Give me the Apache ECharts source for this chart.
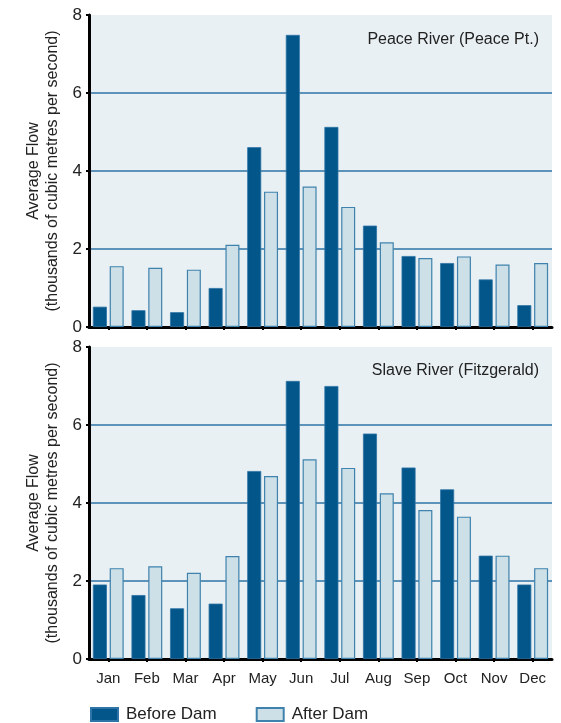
<!DOCTYPE html>
<html><head><meta charset="utf-8">
<script src="https://cdn.jsdelivr.net/npm/echarts@6/dist/echarts.min.js"></script>
<style>html,body{margin:0;padding:0;background:#fff}#c{width:561px;height:723px}</style>
</head><body><div id="c"></div>
<script>
const months = ['Jan','Feb','Mar','Apr','May','Jun','Jul','Aug','Sep','Oct','Nov','Dec'];
const peaceBefore = [0.52, 0.43, 0.38, 1.0, 4.61, 7.49, 5.13, 2.60, 1.82, 1.64, 1.22, 0.56];
const peaceAfter  = [1.56, 1.52, 1.47, 2.11, 3.47, 3.60, 3.08, 2.17, 1.77, 1.81, 1.60, 1.64];
const slaveBefore = [1.91, 1.64, 1.30, 1.42, 4.82, 7.13, 7.00, 5.78, 4.91, 4.35, 2.65, 1.91];
const slaveAfter  = [2.33, 2.38, 2.21, 2.64, 4.69, 5.12, 4.90, 4.25, 3.82, 3.65, 2.65, 2.33];
const yTicks = [0, 2, 4, 6, 8];
const titles = ['Peace River (Peace Pt.)', 'Slave River (Fitzgerald)'];
const seriesNames = ['Before Dam', 'After Dam'];
const yName = 'Average Flow\n(thousands of cubic metres per second)';

const FONT = "'Liberation Sans Narrow','Arial Narrow','Liberation Sans',sans-serif";
const BEFORE = '#02568a', AFTER = '#cde0e7', AFTER_BORDER = '#3f82ad', GRIDC = '#2f75a5';

function yAxis(gi){
  return {
    gridIndex: gi, type:'value', min: yTicks[0], max: yTicks[yTicks.length-1], interval: 2,
    name: yName, nameLocation:'middle', nameRotate:90, nameGap: 27,
    nameTextStyle:{fontFamily:FONT, fontSize:16, color:'#222', lineHeight:19},
    axisLine:{show:true, lineStyle:{color:'#000', width:3}},
    axisTick:{show:true, length:3, lineStyle:{color:'#000', width:2}},
    axisLabel:{fontFamily:FONT, fontSize:17, color:'#222', margin:7},
    splitLine:{show:true, lineStyle:{color:GRIDC, width:1.5}, showMaxLine:false}
  };
}
function xAxis(gi, labels){
  return {
    gridIndex: gi, type:'category', data: months,
    axisLine:{show:true, lineStyle:{color:'#000', width:3}},
    axisTick:{show:true, alignWithLabel:true, length:3, lineStyle:{color:'#000', width:2}},
    axisLabel:{show:labels, fontFamily:FONT, fontSize:15, color:'#222', margin:12}
  };
}
function bars(name, data, gi, before){
  return {
    name, type:'bar', xAxisIndex:gi, yAxisIndex:gi, data,
    barWidth:14, barGap:'20%',
    itemStyle: before ? {color:BEFORE, borderColor:'#2f74a6', borderWidth:0.8}
                      : {color:AFTER, borderColor:AFTER_BORDER, borderWidth:1.2},
    emphasis:{disabled:true}
  };
}
const chart = echarts.init(document.getElementById('c'), null, {renderer:'canvas'});
chart.setOption({
  animation:false,
  title: titles.map((t,i)=>({text:t, right:17, top: i===0 ? 27 : 358,
    textStyle:{fontFamily:FONT, fontSize:16, fontWeight:'normal', color:'#222'}})),
  grid:[
    {left:89, top:15, width:463, height:312, show:true, backgroundColor:'#e8f0f3', borderWidth:0},
    {left:89, top:347, width:463, height:312, show:true, backgroundColor:'#e8f0f3', borderWidth:0}
  ],
  xAxis:[xAxis(0,false), xAxis(1,true)],
  yAxis:[yAxis(0), yAxis(1)],
  legend:{left:90, top:706, padding:0, itemWidth:27, itemHeight:13, itemGap:39,
    data: seriesNames, icon:'rect',
    textStyle:{fontFamily:FONT, fontSize:17, color:'#222', padding:[0,0,0,3]}},
  series:[
    bars(seriesNames[0], peaceBefore, 0, true),
    bars(seriesNames[1], peaceAfter, 0, false),
    bars(seriesNames[0], slaveBefore, 1, true),
    bars(seriesNames[1], slaveAfter, 1, false)
  ]
});
</script></body></html>
